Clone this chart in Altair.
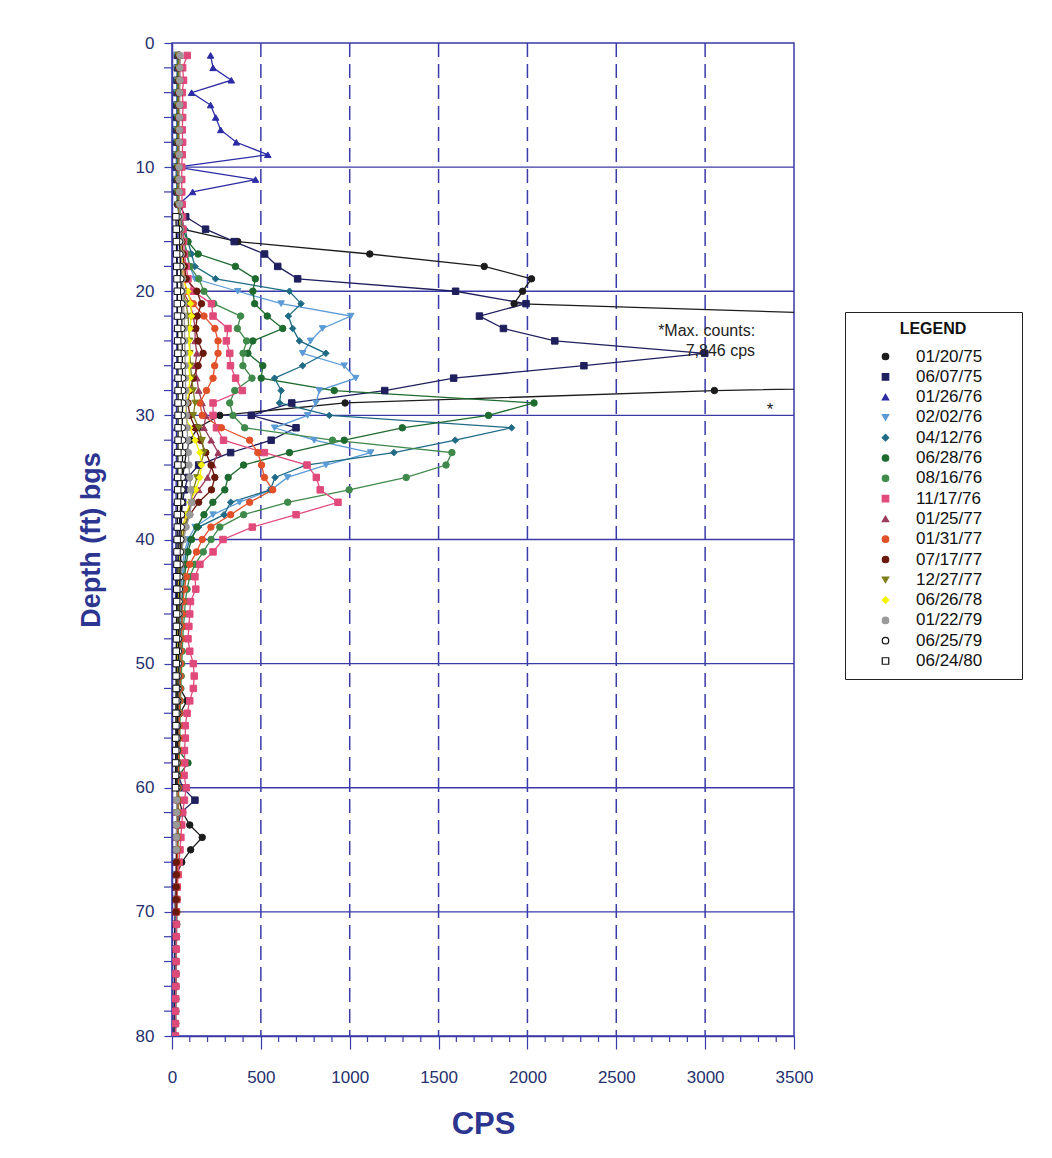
import altair as alt
import pandas as pd

SERIES = ["01/20/75", "06/07/75", "01/26/76", "02/02/76", "04/12/76", "06/28/76",
          "08/16/76", "11/17/76", "01/25/77", "01/31/77", "07/17/77", "12/27/77",
          "06/26/78", "01/22/79", "06/25/79", "06/24/80"]
FILLS = ["#1c1c1c", "#1f1f5e", "#2b2ba6", "#5b9bd5", "#1f6b85", "#1e6b2f",
         "#3f8a4a", "#e04a7a", "#9c3a5a", "#e2502a", "#6a1a0c", "#7f7f1a",
         "#f4f400", "#9a9a9a", "#ffffff", "#ffffff"]
STROKES = ["#1c1c1c", "#1f1f5e", "#2b2ba6", "#5b9bd5", "#1f6b85", "#1e6b2f",
           "#3f8a4a", "#e04a7a", "#9c3a5a", "#e2502a", "#6a1a0c", "#7f7f1a",
           "#f4f400", "#9a9a9a", "#111111", "#111111"]
SHAPES = ["circle", "square", "triangle-up", "triangle-down", "diamond", "circle",
          "circle", "square", "triangle-up", "circle", "circle", "triangle-down",
          "diamond", "circle", "circle", "square"]
START_DEPTH = [1, 1, 1, 1, 1, 1, 1, 1, 1, 1, 1, 1, 14, 1, 14, 14]

S01 = [40, 38, 35, 35, 33, 30, 30, 28, 28, 25,
       25, 28, 30, 45, 60, 370, 1113, 1757, 2023, 1973,
       1925, 4170, 5900, 7300, 7846, 7600, 6900, 3052, 974, 269,
       146, 100, 80, 70, 60, 55, 50, 45, 40, 40,
       38, 36, 35, 34, 33, 32, 30, 30, 28, 28,
       27, 45, 85, 45, 30, 28, 26, 25, 25, 30,
       40, 60, 100, 170, 105, 55, 26, 20, 18, 18,
       16, 15, 15, 14, 14, 13, 12, 12, 12, 10]
S02 = [30, 30, 28, 28, 27, 27, 26, 26, 25, 25,
       25, 28, 40, 77, 189, 350, 521, 595, 707, 1596,
       1992, 1730, 1865, 2154, 2998, 2318, 1585, 1197, 674, 446,
       698, 558, 330, 150, 90, 70, 60, 50, 45, 40,
       38, 36, 35, 34, 33, 32, 31, 30, 30, 29,
       28, 28, 27, 27, 26, 26, 26, 28, 35, 60,
       129, 50, 35, 30, 28, 25, 24, 22, 20, 20,
       18, 18, 17, 16, 15, 15, 14, 14, 13, 12]
S03 = [217, 231, 334, 110, 217, 246, 274, 362, 539, 26,
       470, 116, 40, 35, 33, 32, 30, 30, 30, 30,
       28, 28, 28, 27, 27, 27, 26, 26, 25, 25,
       25, 25, 25, 24, 24, 23, 23, 22, 22, 22,
       21, 21, 20, 20, 20]
S04 = [30, 30, 30, 28, 28, 28, 27, 27, 26, 26,
       26, 28, 32, 40, 50, 70, 82, 100, 129, 370,
       614, 1006, 847, 780, 735, 969, 1034, 829, 810, 763,
       577, 800, 1118, 866, 650, 558, 380, 231, 130, 90,
       70, 60, 55, 50, 48, 45, 42, 40, 40, 38,
       36, 35, 34, 33, 32, 32, 31, 30, 30, 29,
       28, 28, 27, 26, 26, 25, 24, 24, 23, 22,
       22, 21, 20, 20, 20]
S05 = [32, 32, 31, 31, 30, 30, 30, 29, 29, 28,
       28, 30, 35, 50, 73, 90, 110, 129, 245, 661,
       726, 655, 679, 717, 866, 735, 577, 614, 605, 885,
       1911, 1594, 1249, 754, 580, 553, 330, 293, 150, 100,
       80, 70, 65, 60, 55, 52, 50, 48, 45, 45,
       42, 40, 40, 38, 36, 35, 34, 33, 32, 31,
       30, 30, 29, 28, 27, 26, 26, 25, 24, 23,
       23, 22, 21, 20, 20]
S06 = [35, 35, 34, 34, 33, 33, 33, 32, 32, 31,
       31, 32, 38, 45, 60, 90, 147, 357, 469, 455,
       465, 536, 623, 455, 427, 511, 502, 913, 2037, 1781,
       1296, 969, 661, 403, 316, 297, 230, 180, 140, 110,
       90, 80, 70, 65, 60, 58, 55, 52, 50, 48,
       46, 45, 44, 42, 40, 40, 38, 90, 40, 36,
       35, 34, 33, 32, 31, 30, 29, 28, 27, 26,
       25, 24, 24, 23, 22, 22, 21, 20, 20, 19]
S07 = [40, 40, 38, 38, 37, 37, 36, 36, 35, 35,
       35, 36, 40, 50, 60, 70, 85, 100, 150, 180,
       235, 386, 368, 420, 400, 399, 450, 353, 325, 343,
       409, 903, 1575, 1542, 1318, 997, 651, 403, 269, 220,
       176, 129, 100, 85, 75, 70, 65, 60, 58, 55,
       52, 50, 48, 46, 45, 44, 42, 41, 40, 38,
       37, 36, 35, 34, 33, 32, 31, 30, 29, 28,
       27, 26, 25, 25, 24, 23, 22, 22, 21, 20]
S08 = [86, 60, 65, 58, 62, 60, 58, 60, 58, 55,
       55, 55, 58, 60, 62, 65, 70, 80, 90, 120,
       222, 231, 315, 306, 325, 329, 358, 396, 231, 231,
       250, 290, 520, 760, 812, 834, 934, 698, 452, 287,
       231, 157, 129, 134, 104, 100, 95, 90, 100, 120,
       125, 120, 100, 85, 75, 75, 70, 72, 68, 80,
       70, 60, 55, 50, 45, 40, 35, 30, 28, 25,
       25, 24, 24, 23, 22, 22, 21, 20, 20, 20]
S09 = [45, 44, 43, 42, 42, 41, 40, 40, 39, 38,
       38, 38, 40, 42, 45, 48, 50, 55, 58, 60,
       100, 120, 130, 130, 140, 130, 140, 150, 170, 190,
       180, 220, 260, 230, 200, 150, 110, 80, 60, 50,
       48, 45, 43, 42, 40, 40, 38, 37, 36, 35,
       34, 33, 32, 32, 31, 30, 30, 29, 28, 28,
       27, 26, 26, 25, 25, 24, 24, 23, 22, 22]
S10 = [42, 41, 40, 40, 39, 39, 38, 38, 37, 37,
       36, 37, 40, 45, 50, 55, 60, 65, 70, 80,
       120, 180, 241, 259, 259, 240, 231, 194, 157, 170,
       278, 437, 483, 504, 520, 567, 437, 330, 219, 170,
       138, 100, 80, 70, 62, 58, 55, 52, 50, 48,
       46, 45, 44, 42, 40, 40, 38, 37, 36, 35,
       34, 33, 32, 31, 30, 30, 29, 28, 27, 26]
S11 = [38, 38, 37, 37, 36, 36, 35, 35, 35, 34,
       34, 35, 38, 42, 48, 55, 62, 70, 80, 140,
       166, 142, 134, 147, 175, 147, 120, 100, 90, 100,
       130, 160, 190, 220, 241, 222, 150, 100, 70, 60,
       55, 50, 48, 46, 44, 42, 40, 39, 38, 37,
       36, 35, 34, 33, 32, 32, 31, 30, 30, 29,
       28, 28, 27, 26, 26, 25, 25, 24, 24, 23]
S12 = [36, 36, 35, 35, 34, 34, 34, 33, 33, 33,
       32, 33, 35, 38, 42, 46, 50, 54, 58, 60,
       80, 90, 95, 100, 100, 105, 110, 120, 130, 120,
       150, 170, 180, 160, 140, 120, 110, 90, 70, 60,
       55, 50, 48, 45, 43, 42, 40, 39, 38, 37,
       36, 35, 34, 33, 32, 31, 30, 30, 29, 28,
       28, 27, 26, 26, 25]
S13 = [40, 45, 50, 55, 58, 60, 90, 105, 110, 100,
       95, 100, 95, 100, 95, 85, 75, 100, 130, 157,
       166, 157, 134, 101, 80, 60, 50, 45, 42, 40,
       38, 37, 36, 35, 34, 33, 32, 31, 30, 30, 29, 28]
S14 = [45, 44, 44, 43, 43, 42, 42, 41, 41, 40,
       40, 41, 43, 45, 48, 50, 52, 55, 58, 62,
       65, 68, 70, 72, 72, 75, 75, 78, 80, 82,
       85, 88, 92, 95, 100, 105, 110, 100, 80, 65,
       55, 50, 47, 45, 43, 42, 40, 39, 38, 37,
       36, 35, 34, 33, 32, 31, 30, 30, 29, 28,
       27, 27, 26, 25, 25]
S15 = [35, 40, 42, 45, 48, 50, 52,
       55, 55, 56, 57, 58, 58, 60, 60, 60, 58,
       58, 60, 60, 58, 58, 56, 55, 54, 52, 50,
       48, 46, 44, 42, 40, 39, 38, 37, 36, 35,
       34, 33, 32, 32, 31, 30, 30, 29, 28, 28]
S16 = [22, 24, 25, 26, 27, 28, 30,
       30, 31, 32, 32, 33, 33, 34, 34, 34, 34,
       34, 34, 33, 33, 32, 32, 31, 30, 30, 29,
       28, 28, 27, 27, 26, 26, 25, 25, 24, 24,
       23, 23, 22, 22, 22, 21, 21, 20, 20, 20]
VALUES = [S01, S02, S03, S04, S05, S06, S07, S08, S09, S10, S11, S12, S13, S14, S15, S16]

X_MAJOR = [0, 500, 1000, 1500, 2000, 2500, 3000, 3500]
X_MINOR = [100, 200, 300, 400, 600, 700, 800, 900, 1100, 1200, 1300, 1400,
           1600, 1700, 1800, 1900, 2100, 2200, 2300, 2400, 2600, 2700, 2800, 2900,
           3100, 3200, 3300, 3400]
Y_MAJOR = [0, 10, 20, 30, 40, 50, 60, 70, 80]
Y_MINOR = [2, 4, 6, 8, 12, 14, 16, 18, 22, 24, 26, 28, 32, 34, 36, 38, 42, 44, 46, 48,
           52, 54, 56, 58, 62, 64, 66, 68, 72, 74, 76, 78]
X_GRID = [500, 1000, 1500, 2000, 2500, 3000]
Y_GRID = [10, 20, 30, 40, 50, 60, 70]

rows = []
for k, (name, start, vals) in enumerate(zip(SERIES, START_DEPTH, VALUES)):
    for i, v in enumerate(vals):
        rows.append({"series": name, "k": k, "depth": start + i, "cps": v})
df = pd.DataFrame(rows)

W, H = 622, 993
AX = "#3a3aa8"
LBL = "#26306e"
TTL = "#2c3590"
FONT = "Liberation Sans"
PAD = "\u2009\u2009" + "\u2800" * 2   # invisible padding so the legend box is as wide as the original

xscale = alt.Scale(domain=[0, 3500], nice=False, zero=False)
yscale = alt.Scale(domain=[0, 80], reverse=True, nice=False, zero=False)

x_axis = alt.Axis(values=X_MAJOR, format="d", grid=False, tickSize=13, tickColor=AX,
                  tickWidth=1.2, domainColor=AX, domainWidth=1.5, labelFontSize=17,
                  labelColor=LBL, labelFont=FONT, labelPadding=20, labelOverlap=False,
                  labelFlush=False, title="CPS", titleFontSize=31, titleFontWeight="bold",
                  titleColor=TTL, titleFont=FONT, titlePadding=24)
y_axis = alt.Axis(values=Y_MAJOR, grid=False, tickSize=8, tickColor=AX, tickWidth=1.2,
                  domainColor=AX, domainWidth=1.5, labelFontSize=17, labelColor=LBL,
                  labelFont=FONT, labelPadding=10, labelOverlap=False, labelFlush=False,
                  title="Depth (ft) bgs", titleFontSize=27, titleFontWeight="bold",
                  titleColor=TTL, titleFont=FONT, titlePadding=30)

legend = alt.Legend(title="LEGEND", orient="none", legendX=673, legendY=269,
                    titleFontSize=16, titleFontWeight="bold", titleColor="#111111",
                    titleFont=FONT, titleAnchor="middle", titlePadding=11,
                    labelFontSize=17, labelFont=FONT, labelColor="#111111",
                    labelExpr="datum.label + '" + PAD + "'",
                    symbolSize=42, symbolStrokeWidth=1.2, symbolOffset=23, labelOffset=22,
                    rowPadding=2.3, padding=9, strokeColor="#222222", fillColor="#ffffff")

X = lambda f: alt.X(f, scale=xscale, axis=x_axis)
Y = lambda f: alt.Y(f, scale=yscale, axis=y_axis)

hgrid = alt.Chart(pd.DataFrame({"depth": Y_GRID})).mark_rule(
    color=AX, strokeWidth=1.3).encode(y=Y("depth:Q"))
vgrid = alt.Chart(pd.DataFrame({"cps": X_GRID})).mark_rule(
    color=AX, strokeWidth=1.5, strokeDash=[14, 7]).encode(x=X("cps:Q"))
xminor = alt.Chart(pd.DataFrame({"cps": X_MINOR})).mark_rule(
    color=AX, strokeWidth=1.2).encode(x=X("cps:Q"), y=alt.value(H), y2=alt.value(H + 6))
yminor = alt.Chart(pd.DataFrame({"depth": Y_MINOR})).mark_rule(
    color=AX, strokeWidth=1.2).encode(y=Y("depth:Q"), x=alt.value(-8), x2=alt.value(0))

base = alt.Chart(df)
stroke_scale = alt.Scale(domain=SERIES, range=STROKES)

lines = base.mark_line(strokeWidth=1.3, clip=True).encode(
    x=X("cps:Q"), y=Y("depth:Q"),
    stroke=alt.Stroke("series:N", scale=stroke_scale, legend=legend, sort=SERIES),
    order=alt.Order("depth:Q"),
)

points = base.mark_point(filled=True, size=42, strokeWidth=1, opacity=1, clip=True).encode(
    x=X("cps:Q"), y=Y("depth:Q"),
    fill=alt.Fill("series:N", scale=alt.Scale(domain=SERIES, range=FILLS), legend=legend, sort=SERIES),
    stroke=alt.Stroke("series:N", scale=stroke_scale, legend=legend, sort=SERIES),
    shape=alt.Shape("series:N", scale=alt.Scale(domain=SERIES, range=SHAPES), legend=legend, sort=SERIES),
    order=alt.Order("k:Q"),
)

txt = dict(baseline="middle", font=FONT, color="#222222")
note1 = alt.Chart(pd.DataFrame({"a": [0]})).mark_text(align="right", fontSize=16, **txt).encode(
    x=alt.datum(3281), y=alt.datum(23.2), text=alt.value("*Max. counts:"))
note2 = alt.Chart(pd.DataFrame({"a": [0]})).mark_text(align="right", fontSize=16, **txt).encode(
    x=alt.datum(3281), y=alt.datum(24.8), text=alt.value("7,846 cps"))
star = alt.Chart(pd.DataFrame({"a": [0]})).mark_text(align="center", fontSize=17, **txt).encode(
    x=alt.datum(3365), y=alt.datum(29.6), text=alt.value("*"))

chart = alt.layer(hgrid, vgrid, xminor, yminor, lines, points, note1, note2, star).properties(
    width=W, height=H,
    padding={"left": 164, "top": 35, "right": 250, "bottom": 114},
    autosize=alt.AutoSizeParams(type="none"),
    background="#ffffff",
).configure_view(stroke=AX, strokeWidth=1.5)

chart.save("out.html", embed_options={"renderer": "svg", "actions": False})
